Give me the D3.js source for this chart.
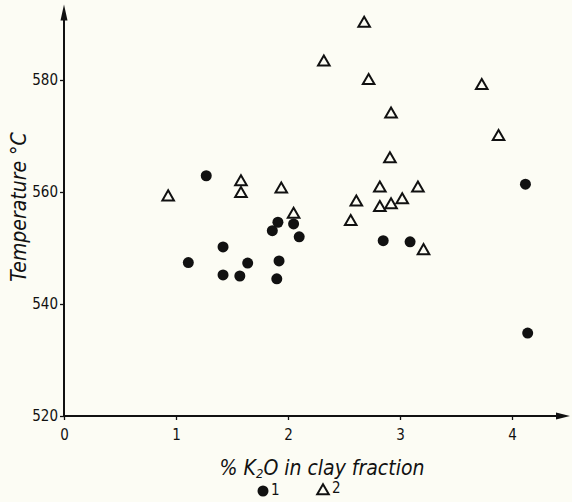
<!DOCTYPE html>
<html>
<head>
<meta charset="utf-8">
<script src="https://cdn.jsdelivr.net/npm/d3@7"></script>
<style>
  html, body { margin: 0; padding: 0; background: #fcfcf4; }
  svg { display: block; }
  text { font-family: "DejaVu Sans", sans-serif; font-stretch: condensed; fill: #111; }
</style>
</head>
<body>
<script>
// Series 1 (filled circles): % K2O in clay fraction, temperature °C
const series1X = [1.11, 1.27, 1.42, 1.42, 1.57, 1.64, 1.86, 1.91, 1.92, 1.90, 2.05, 2.10, 2.85, 3.09, 4.12, 4.14];
const series1Y = [547.4, 562.9, 550.2, 545.2, 545.0, 547.3, 553.1, 554.6, 547.7, 544.5, 554.3, 552.0, 551.3, 551.1, 561.4, 534.8];
// Series 2 (open triangles)
const series2X = [0.93, 1.58, 1.58, 1.94, 2.05, 2.32, 2.68, 2.72, 2.92, 2.91, 2.61, 2.56, 2.82, 2.82, 2.92, 3.02, 3.16, 3.21, 3.73, 3.88];
const series2Y = [559.1, 561.8, 559.7, 560.5, 556.0, 583.2, 590.1, 579.9, 573.9, 565.9, 558.2, 554.7, 560.7, 557.2, 557.7, 558.6, 560.7, 549.5, 579.0, 569.9];
const xTicks = [0, 1, 2, 3, 4];
const yTicks = [520, 540, 560, 580];
const legendLabels = ["1", "2"];

const W = 572, H = 502;
const svg = d3.select("body").append("svg").attr("width", W).attr("height", H);

const x = d3.scaleLinear().domain([0, 4]).range([64, 512]);
const y = d3.scaleLinear().domain([520, 580]).range([416, 80]);

const ink = "#111";

// axes lines with arrows
svg.append("line").attr("x1", x(0)).attr("x2", x(4.5) - 2).attr("y1", y(520)).attr("y2", y(520))
  .attr("stroke", ink).attr("stroke-width", 2);
svg.append("line").attr("x1", x(0)).attr("x2", x(0)).attr("y1", y(520)).attr("y2", y(592) + 2)
  .attr("stroke", ink).attr("stroke-width", 2);
// arrowheads
const xe = x(4.5) + 2, ye = y(520);
svg.append("path").attr("d", `M${xe},${ye} L${xe - 14},${ye - 3.5} L${xe - 14},${ye + 3.5} Z`).attr("fill", ink);
const ax = x(0), ay = y(593.5);
svg.append("path").attr("d", `M${ax},${ay} L${ax - 3.5},${ay + 16} L${ax + 3.5},${ay + 16} Z`).attr("fill", ink);

// ticks
const xAxis = d3.axisBottom(x).tickValues(xTicks).tickSize(4).tickPadding(9).tickFormat(d3.format("d"));
const gx = svg.append("g").attr("transform", `translate(0,${y(520)})`).call(xAxis);
gx.select(".domain").remove();
gx.selectAll("line").attr("stroke", ink).attr("stroke-width", 1.3);
gx.selectAll("text").attr("font-size", 15).attr("fill", ink);

const yAxis = d3.axisLeft(y).tickValues(yTicks).tickSize(4).tickPadding(2).tickFormat(d3.format("d"));
const gy = svg.append("g").attr("transform", `translate(${x(0)},0)`).call(yAxis);
gy.select(".domain").remove();
gy.selectAll("line").attr("stroke", ink).attr("stroke-width", 1.3);
gy.selectAll("text").attr("font-size", 15).attr("fill", ink);

// points
svg.append("g").selectAll("circle").data(series1X.map((d, i) => [d, series1Y[i]]))
  .join("circle").attr("cx", d => x(d[0])).attr("cy", d => y(d[1])).attr("r", 5.5).attr("fill", "#111");

const tri = d3.symbol().type(d3.symbolTriangle).size(58);
svg.append("g").selectAll("path").data(series2X.map((d, i) => [d, series2Y[i]]))
  .join("path").attr("d", tri).attr("transform", d => `translate(${x(d[0])},${y(d[1])})`)
  .attr("fill", "none").attr("stroke", "#111").attr("stroke-width", 2);

// axis titles
const xt = svg.append("text").attr("x", 322).attr("y", 475).attr("text-anchor", "middle")
  .attr("font-size", 21).attr("font-style", "italic");
xt.append("tspan").text("% K");
xt.append("tspan").attr("font-size", 13).attr("dy", 3).text("2");
xt.append("tspan").attr("dy", -3).text("O in clay fraction");

svg.append("text").attr("transform", "translate(26,207) rotate(-90)").attr("text-anchor", "middle")
  .attr("font-size", 21).attr("font-style", "italic").text("Temperature °C");

// legend
svg.append("circle").attr("cx", 263).attr("cy", 491).attr("r", 5.5).attr("fill", "#111");
svg.append("text").attr("x", 271).attr("y", 495).attr("font-size", 15).text(legendLabels[0]);
svg.append("path").attr("d", tri).attr("transform", "translate(323,491)")
  .attr("fill", "none").attr("stroke", "#111").attr("stroke-width", 2);
svg.append("text").attr("x", 332).attr("y", 493).attr("font-size", 15).text(legendLabels[1]);
</script>
</body>
</html>
